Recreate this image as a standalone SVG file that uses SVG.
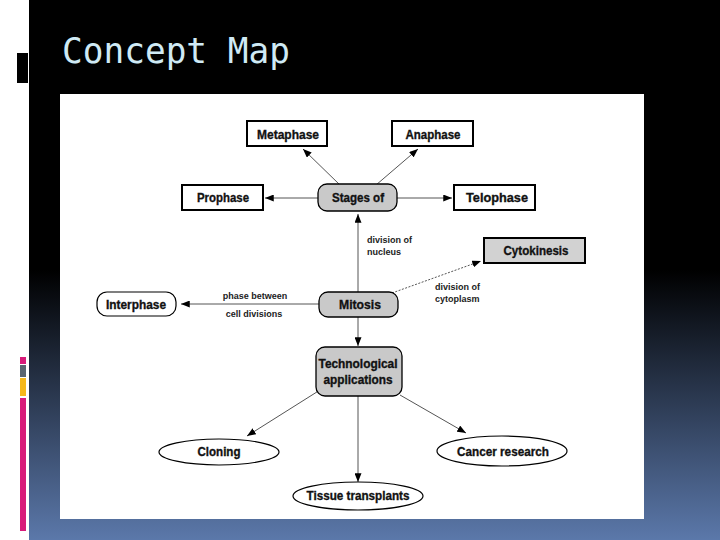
<svg xmlns="http://www.w3.org/2000/svg" width="720" height="540" viewBox="0 0 720 540">
<defs>
<linearGradient id="bg" x1="0" y1="0" x2="0" y2="540" gradientUnits="userSpaceOnUse">
<stop offset="0" stop-color="#000"/>
<stop offset="0.5" stop-color="#000"/>
<stop offset="1" stop-color="#5b78aa"/>
</linearGradient>
<marker id="ah" viewBox="0 0 10 8" refX="10" refY="4" markerWidth="9" markerHeight="7" markerUnits="userSpaceOnUse" orient="auto">
<path d="M0,0 L10,4 L0,8 Z" fill="#000"/>
</marker>
<style>
.box{fill:#fff;stroke:#000;stroke-width:2}
.gbox{fill:#c9c9c9;stroke:#000;stroke-width:1.3}
.ell{fill:#fff;stroke:#000;stroke-width:1.2}
.t{font-family:"Liberation Sans",Arial,sans-serif;font-weight:bold;font-size:13px;fill:#111;stroke:#111;stroke-width:0.35;text-anchor:middle}
.s{font-family:"Liberation Sans",Arial,sans-serif;font-weight:bold;font-size:9px;fill:#222}
.c{fill:none;stroke:#555;stroke-width:1;marker-end:url(#ah)}
</style>
</defs>
<rect x="0" y="0" width="720" height="540" fill="#fff"/>
<rect x="29" y="0" width="691" height="540" fill="url(#bg)"/>
<rect x="17" y="53" width="11" height="30" fill="#000"/>
<rect x="20" y="357" width="6" height="7" fill="#d81b7a"/>
<rect x="20" y="365" width="6" height="12" fill="#5a6570"/>
<rect x="20" y="378" width="6" height="18" fill="#f6b81a"/>
<rect x="20" y="398" width="6" height="133" fill="#d81b7a"/>
<text x="62" y="63" font-family="DejaVu Sans Mono,monospace" font-size="35" fill="#cfeaf5" textLength="228" lengthAdjust="spacingAndGlyphs">Concept Map</text>
<rect x="60" y="94" width="584" height="425" fill="#fff"/>

<g id="connectors">
<line class="c" x1="340" y1="185" x2="303" y2="149"/>
<line class="c" x1="376" y1="185" x2="418" y2="149"/>
<line class="c" x1="318" y1="198" x2="265" y2="198"/>
<line class="c" x1="397" y1="198" x2="452" y2="198"/>
<line class="c" x1="358" y1="292" x2="358" y2="214"/>
<line class="c" x1="392" y1="293" x2="481" y2="261" stroke-dasharray="2,1.5"/>
<line class="c" x1="319" y1="304" x2="181" y2="304" stroke="#999"/>
<line class="c" x1="358" y1="317" x2="358" y2="346"/>
<line class="c" x1="320" y1="390" x2="247" y2="436"/>
<line class="c" x1="358" y1="396" x2="358" y2="482"/>
<line class="c" x1="400" y1="395" x2="466" y2="433"/>
<text class="s" x="367" y="243">division of</text>
<text class="s" x="367" y="255">nucleus</text>
<text class="s" x="435" y="290">division of</text>
<text class="s" x="435" y="302">cytoplasm</text>
<text class="s" x="255" y="299" text-anchor="middle">phase between</text>
<text class="s" x="254" y="317" text-anchor="middle">cell divisions</text>
</g>

<g id="metaphase"><rect class="box" x="247" y="121" width="80" height="25"/><text class="t" x="288" y="139" textLength="62" lengthAdjust="spacingAndGlyphs">Metaphase</text></g>
<g id="anaphase"><rect class="box" x="392" y="121" width="81" height="25"/><text class="t" x="433" y="139" textLength="55" lengthAdjust="spacingAndGlyphs">Anaphase</text></g>
<g id="stages"><rect class="gbox" x="318" y="184" width="79" height="27" rx="9"/><text class="t" x="358" y="202" textLength="52" lengthAdjust="spacingAndGlyphs">Stages of</text></g>
<g id="prophase"><rect class="box" x="182" y="185" width="81" height="25"/><text class="t" x="223" y="202" textLength="52" lengthAdjust="spacingAndGlyphs">Prophase</text></g>
<g id="telophase"><rect class="box" x="454" y="185" width="81" height="25"/><text class="t" x="497" y="202" textLength="62" lengthAdjust="spacingAndGlyphs">Telophase</text></g>
<g id="cytokinesis"><rect x="484" y="238" width="101" height="25" fill="#d2d2d2" stroke="#000" stroke-width="2"/><text class="t" x="536" y="255" textLength="65" lengthAdjust="spacingAndGlyphs">Cytokinesis</text></g>
<g id="mitosis"><rect class="gbox" x="319" y="292" width="79" height="25" rx="9"/><text class="t" x="360" y="309" textLength="42" lengthAdjust="spacingAndGlyphs">Mitosis</text></g>
<g id="interphase"><rect class="ell" x="97" y="292" width="79" height="24" rx="10"/><text class="t" x="136" y="309" textLength="60" lengthAdjust="spacingAndGlyphs">Interphase</text></g>
<g id="tech"><rect class="gbox" x="316" y="347" width="86" height="49" rx="9"/><text class="t" x="358" y="368" textLength="79" lengthAdjust="spacingAndGlyphs">Technological</text><text class="t" x="358" y="384" textLength="69" lengthAdjust="spacingAndGlyphs">applications</text></g>
<g id="cloning"><ellipse class="ell" cx="219" cy="452" rx="60" ry="13"/><text class="t" x="219" y="456" textLength="43" lengthAdjust="spacingAndGlyphs">Cloning</text></g>
<g id="cancer"><ellipse class="ell" cx="502" cy="451" rx="65" ry="15"/><text class="t" x="503" y="456" textLength="92" lengthAdjust="spacingAndGlyphs">Cancer research</text></g>
<g id="tissue"><ellipse class="ell" cx="358" cy="496" rx="65" ry="14"/><text class="t" x="358" y="500" textLength="103" lengthAdjust="spacingAndGlyphs">Tissue transplants</text></g>
</svg>
